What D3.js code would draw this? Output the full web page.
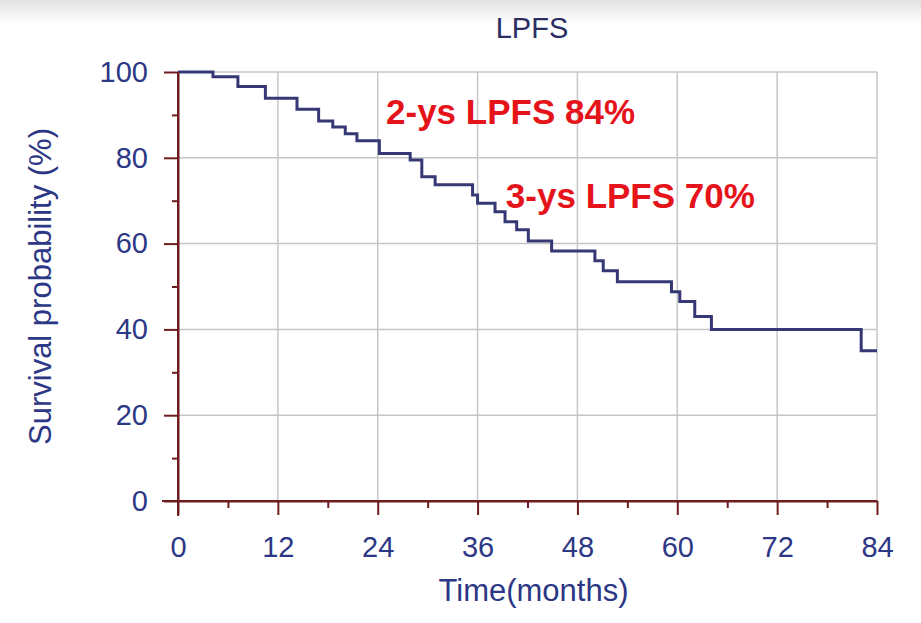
<!DOCTYPE html>
<html>
<head>
<meta charset="utf-8">
<script src="https://cdn.jsdelivr.net/npm/d3@7"></script>
<style>
  body { margin: 0; background: #fff; }
  svg { display: block; font-family: "Liberation Sans", Arial, sans-serif; }
</style>
</head>
<body>
<div id="chart"></div>
<script>
// step times (months) and survival (%)
var times = [0, 4.2, 7.2, 10.5, 14.3, 16.9, 18.6, 20.1, 21.5, 24.2, 27.9, 29.3, 30.9, 35.4, 36.0,
             38.1, 39.3, 40.7, 42.1, 44.9, 50.1, 51.1, 52.8, 59.3, 60.3, 62.1, 64.1, 82.1];
var surv  = [100, 98.9, 96.6, 93.9, 91.3, 88.6, 87.2, 85.6, 84.0, 81.0, 79.5, 75.6, 73.7, 71.3, 69.4,
             67.4, 65.1, 63.2, 60.6, 58.3, 56.0, 53.7, 51.1, 48.8, 46.5, 43.0, 40.0, 35.0];
var lastTime = 84;

var xTicks = [0, 12, 24, 36, 48, 60, 72, 84];
var xMinor = [6, 18, 30, 42, 54, 66, 78];
var yTicks = [0, 20, 40, 60, 80, 100];
var yMinor = [10, 30, 50, 70, 90];

var notes = [
  {text: "2-ys LPFS 84%", t: 25.0, s: 87.9},
  {text: "3-ys LPFS 70%", t: 39.4, s: 68.3}
];

var W = 921, H = 623;
var margin = {top: 72, right: 44, bottom: 122, left: 178},
    width = W - margin.left - margin.right,
    height = H - margin.top - margin.bottom;

var navy = "#2c3785", axisCol = "#6e1c1f", gridCol = "#c6c6c6", curveCol = "#363875";

var svg = d3.select("#chart").append("svg")
    .attr("width", W)
    .attr("height", H);

// faint grey band at the very top
var grad = svg.append("defs").append("linearGradient")
    .attr("id", "topband").attr("x1", 0).attr("y1", 0).attr("x2", 0).attr("y2", 1);
grad.append("stop").attr("offset", "0%").attr("stop-color", "#e2e2e2");
grad.append("stop").attr("offset", "100%").attr("stop-color", "#ffffff");
svg.append("rect").attr("width", W).attr("height", 24).attr("fill", "url(#topband)");

var g = svg.append("g")
    .attr("transform", "translate(" + margin.left + "," + margin.top + ")");

var x = d3.scaleLinear().domain([0, 84]).range([0, width]);
var y = d3.scaleLinear().domain([0, 100]).range([height, 0]);

// grid
g.selectAll(".vgrid").data(xTicks.slice(1)).enter().append("line")
    .attr("x1", function(d) { return x(d); }).attr("x2", function(d) { return x(d); })
    .attr("y1", 0).attr("y2", height)
    .attr("stroke", gridCol).attr("stroke-width", 1.5);
g.selectAll(".hgrid").data(yTicks.slice(1)).enter().append("line")
    .attr("x1", 0).attr("x2", width)
    .attr("y1", function(d) { return y(d); }).attr("y2", function(d) { return y(d); })
    .attr("stroke", gridCol).attr("stroke-width", 1.5);

// survival curve
var pts = times.map(function(t, i) { return [t, surv[i]]; });
pts.push([lastTime, surv[surv.length - 1]]);
var line = d3.line()
    .x(function(d) { return x(d[0]); })
    .y(function(d) { return y(d[1]); })
    .curve(d3.curveStepAfter);
g.append("path")
    .datum(pts)
    .attr("d", line)
    .attr("fill", "none")
    .attr("stroke", curveCol)
    .attr("stroke-width", 3);

// axes
function styleAxis(sel) {
    sel.select(".domain").attr("stroke", axisCol).attr("stroke-width", 2);
    sel.selectAll(".tick line").attr("stroke", axisCol).attr("stroke-width", 2);
    sel.selectAll(".tick text").attr("fill", navy).style("font-size", "29px");
}

g.append("g")
    .attr("transform", "translate(0," + height + ")")
    .call(d3.axisBottom(x).tickValues(xMinor).tickSize(7).tickFormat("").tickSizeOuter(0))
    .call(styleAxis);
g.append("g")
    .attr("transform", "translate(0," + height + ")")
    .call(d3.axisBottom(x).tickValues(xTicks).tickSize(14).tickPadding(21).tickSizeOuter(0))
    .call(styleAxis)
    .select(".domain").attr("d", "M-16,0H" + width);

g.append("g")
    .call(d3.axisLeft(y).tickValues(yMinor).tickSize(6).tickFormat("").tickSizeOuter(0))
    .call(styleAxis);
g.append("g")
    .call(d3.axisLeft(y).tickValues(yTicks).tickSize(14).tickPadding(16).tickSizeOuter(0))
    .call(styleAxis)
    .select(".domain").attr("d", "M0,0V" + (height + 15));

// titles
svg.append("text")
    .attr("x", 532).attr("y", 38)
    .attr("text-anchor", "middle")
    .attr("fill", "#2b2e63")
    .style("font-size", "29px")
    .text("LPFS");

svg.append("text")
    .attr("x", margin.left + width / 2 + 6).attr("y", 601)
    .attr("text-anchor", "middle")
    .attr("fill", navy)
    .style("font-size", "31px")
    .text("Time(months)");

svg.append("text")
    .attr("transform", "translate(51," + (margin.top + height / 2) + ") rotate(-90)")
    .attr("text-anchor", "middle")
    .attr("fill", navy)
    .style("font-size", "31px")
    .text("Survival probability (%)");

// annotations
g.selectAll(".note").data(notes).enter().append("text")
    .attr("x", function(d) { return x(d.t); })
    .attr("y", function(d) { return y(d.s); })
    .attr("fill", "#e5141b")
    .style("font-size", "35px")
    .style("font-weight", "bold")
    .text(function(d) { return d.text; });
</script>
</body>
</html>
